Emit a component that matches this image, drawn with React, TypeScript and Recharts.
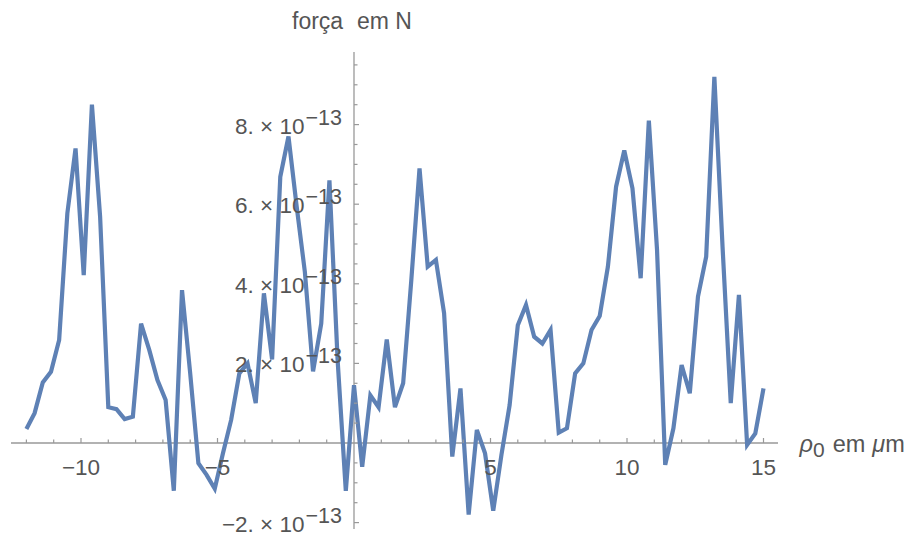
import React from 'react';
import { LineChart, Line, XAxis, YAxis, ReferenceLine, ReferenceDot } from 'recharts';

// ρ0 in μm
const rho = [
  -12.0, -11.7, -11.4, -11.1, -10.8, -10.5, -10.2, -9.9, -9.6, -9.3,
  -9.0, -8.7, -8.4, -8.1, -7.8, -7.5, -7.2, -6.9, -6.6, -6.3,
  -6.0, -5.7, -5.4, -5.1, -4.8, -4.5, -4.2, -3.9, -3.6, -3.3,
  -3.0, -2.7, -2.4, -2.1, -1.8, -1.5, -1.2, -0.9, -0.6, -0.3,
  0.0, 0.3, 0.6, 0.9, 1.2, 1.5, 1.8, 2.1, 2.4, 2.7,
  3.0, 3.3, 3.6, 3.9, 4.2, 4.5, 4.8, 5.1, 5.4, 5.7,
  6.0, 6.3, 6.6, 6.9, 7.2, 7.5, 7.8, 8.1, 8.4, 8.7,
  9.0, 9.3, 9.6, 9.9, 10.2, 10.5, 10.8, 11.1, 11.4, 11.7,
  12.0, 12.3, 12.6, 12.9, 13.2, 13.5, 13.8, 14.1, 14.4, 14.7,
  15.0,
];

// força in units of 1e-13 N
const forceE13 = [
  0.35, 0.75, 1.52, 1.79, 2.59, 5.77, 7.4, 4.22, 8.5, 5.69,
  0.9, 0.85, 0.6, 0.66, 3.0, 2.34, 1.58, 1.08, -1.2, 3.84,
  1.75, -0.51, -0.8, -1.15, -0.26, 0.58, 1.75, 2.0, 1.0, 3.76,
  2.1, 6.69, 7.7, 5.94, 4.3, 1.8, 3.0, 6.6, 2.08, -1.2,
  1.45, -0.6, 1.2, 0.9, 2.6, 0.9, 1.5, 4.1, 6.9, 4.43,
  4.6, 3.26, -0.34, 1.37, -1.8, 0.33, -0.26, -1.7, -0.3, 0.95,
  2.96, 3.47, 2.67, 2.5, 2.84, 0.26, 0.37, 1.75, 2.0, 2.84,
  3.19, 4.43, 6.44, 7.35, 6.4, 4.14, 8.1, 4.85, -0.55, 0.37,
  1.96, 1.25, 3.68, 4.68, 9.2, 4.93, 1.0, 3.72, -0.05, 0.24,
  1.37,
];

const xMajorTicks = [-10, -5, 5, 10, 15];
const xMinorTicks = [-12, -11, -9, -8, -7, -6, -4, -3, -2, -1, 1, 2, 3, 4, 6, 7, 8, 9, 11, 12, 13, 14];
const yMajorTicks = [-2, 2, 4, 6, 8];
const yMinorTicks = [-1.5, -1, -0.5, 0.5, 1, 1.5, 2.5, 3, 3.5, 4.5, 5, 5.5, 6.5, 7, 7.5, 8.5, 9, 9.5];
const xDomain: [number, number] = [-12.564, 15.531];
const yDomain: [number, number] = [-2.161, 9.824];

const data = rho.map((x, i) => ({ x, f: forceE13[i] }));

const AXIS = '#999999';
const TEXT = '#555555';
const LINE = '#5E81B5';
const FONT = '"Liberation Sans", Arial, Helvetica, sans-serif';

const fmtNum = (v: number) => (v < 0 ? '\u2212' + Math.abs(v) : String(v));

export default function App() {
  return (
    <div style={{ position: 'absolute', left: 0, top: 0 }}>
      <LineChart
        width={917}
        height={537}
        data={data}
        margin={{ top: 52, right: 139, bottom: 8, left: 11 }}
      >
        <XAxis type="number" dataKey="x" domain={xDomain} hide allowDataOverflow />
        <YAxis type="number" domain={yDomain} hide allowDataOverflow />
        <ReferenceLine y={0} stroke={AXIS} strokeWidth={1.3} />
        <ReferenceLine x={0} stroke={AXIS} strokeWidth={1.3} />
        {xMinorTicks.map((v) => (
          <ReferenceDot
            key={'xm' + v}
            x={v}
            y={0}
            r={0}
            shape={(p: any) => (
              <line x1={p.cx} y1={p.cy} x2={p.cx} y2={p.cy - 3.5} stroke={AXIS} strokeWidth={1.2} />
            )}
          />
        ))}
        {xMajorTicks.map((v) => (
          <ReferenceDot
            key={'xM' + v}
            x={v}
            y={0}
            r={0}
            shape={(p: any) => (
              <g>
                <line x1={p.cx} y1={p.cy} x2={p.cx} y2={p.cy - 5} stroke={AXIS} strokeWidth={1.2} />
                <text
                  x={p.cx}
                  y={p.cy + 32}
                  textAnchor="middle"
                  fill={TEXT}
                  fontSize={22.5}
                  fontFamily={FONT}
                >
                  {fmtNum(v)}
                </text>
              </g>
            )}
          />
        ))}
        {yMinorTicks.map((v) => (
          <ReferenceDot
            key={'ym' + v}
            x={0}
            y={v}
            r={0}
            shape={(p: any) => (
              <line x1={p.cx} y1={p.cy} x2={p.cx + 3.5} y2={p.cy} stroke={AXIS} strokeWidth={1.2} />
            )}
          />
        ))}
        {yMajorTicks.map((v) => (
          <ReferenceDot
            key={'yM' + v}
            x={0}
            y={v}
            r={0}
            shape={(p: any) => (
              <g>
                <line x1={p.cx} y1={p.cy} x2={p.cx + 5} y2={p.cy} stroke={AXIS} strokeWidth={1.2} />
                <text
                  x={p.cx - 12}
                  y={p.cy + 9}
                  textAnchor="end"
                  fill={TEXT}
                  fontSize={22.5}
                  fontFamily={FONT}
                >
                  {fmtNum(v) + '. \u00D7 10'}
                  <tspan dx={1} dy={-9} fontSize={21.5}>
                    {'\u221213'}
                  </tspan>
                </text>
              </g>
            )}
          />
        ))}
        <ReferenceDot
          x={15}
          y={0}
          r={0}
          ifOverflow="visible"
          shape={(p: any) => (
            <text x={p.cx + 36} y={p.cy + 9} fill={TEXT} fontSize={23.5} fontFamily={FONT}>
              <tspan fontStyle="italic">ρ</tspan>
              <tspan dy={5} fontSize={21}>0</tspan>
              <tspan dx={8} dy={-5}>em</tspan>
              <tspan dx={7} fontStyle="italic">μ</tspan>
              <tspan>m</tspan>
            </text>
          )}
        />
        <ReferenceDot
          x={0}
          y={9.5}
          r={0}
          ifOverflow="visible"
          shape={(p: any) => (
            <g>
              <text x={p.cx - 62} y={p.cy - 36} fill={TEXT} fontSize={23} fontFamily={FONT}>
                força
              </text>
              <text x={p.cx + 3} y={p.cy - 36} fill={TEXT} fontSize={23} fontFamily={FONT}>
                em N
              </text>
            </g>
          )}
        />
        <Line
          type="linear"
          dataKey="f"
          stroke={LINE}
          strokeWidth={4.2}
          strokeLinejoin="miter"
          strokeLinecap="butt"
          dot={false}
          activeDot={false}
          isAnimationActive={false}
        />
      </LineChart>
    </div>
  );
}
